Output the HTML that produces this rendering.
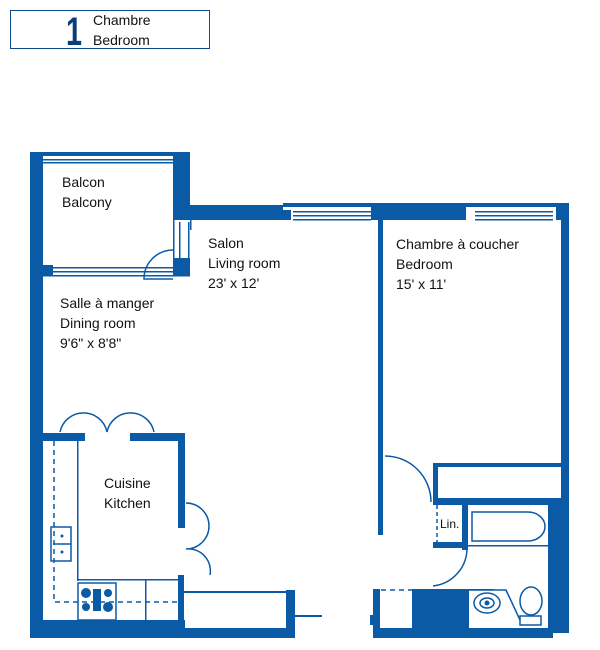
<!DOCTYPE html>
<html><head><meta charset="utf-8"><style>
html,body{margin:0;padding:0;background:#fff;width:600px;height:650px;overflow:hidden}
svg{display:block}
text{font-family:"Liberation Sans",sans-serif;fill:#111;font-size:14px}
</style></head><body>
<svg width="600" height="650" viewBox="0 0 600 650">
<g fill="#0a5aa5" stroke="none">
<rect x="10.5" y="10.5" width="199" height="38" fill="none" stroke="#0a4a8a" stroke-width="1"/>
<rect x="30" y="152" width="13" height="486"/>
<rect x="30" y="152" width="160" height="4"/>
<rect x="43" y="159" width="130" height="1.5"/>
<rect x="43" y="162" width="130" height="1.5"/>
<rect x="173" y="152" width="17" height="68"/>
<rect x="173" y="258" width="17" height="18"/>
<rect x="173" y="220" width="1.5" height="40"/><rect x="179" y="222" width="1.5" height="38"/><rect x="188" y="222" width="1.5" height="38"/>
<rect x="43" y="265" width="10" height="10"/>
<rect x="43" y="267" width="130" height="1.5"/>
<rect x="43" y="271" width="130" height="1.5"/>
<rect x="43" y="275" width="147" height="1.5"/>
<rect x="173" y="205" width="110" height="15"/>
<rect x="283" y="210" width="8" height="10"/>
<rect x="283" y="203" width="90" height="4"/>
<rect x="293" y="211" width="78" height="1.5"/><rect x="293" y="215" width="78" height="1.5"/><rect x="293" y="219" width="78" height="1.5"/>
<rect x="371" y="203" width="95" height="17"/>
<rect x="466" y="203" width="90" height="4"/>
<rect x="475" y="211" width="78" height="1.5"/><rect x="475" y="215" width="78" height="1.5"/><rect x="475" y="219" width="78" height="1.5"/>
<rect x="556" y="203" width="13" height="17"/>
<rect x="190" y="220" width="1.5" height="10"/>
<rect x="378" y="220" width="5" height="315"/>
<rect x="561" y="205" width="8" height="300"/>
<rect x="433" y="463" width="5" height="40"/>
<rect x="433" y="463" width="128" height="4"/>
<rect x="433" y="498" width="136" height="7"/>
<rect x="548" y="500" width="21" height="133"/>
<rect x="462" y="503" width="6" height="47"/>
<rect x="433" y="542" width="35" height="6"/>
<rect x="468" y="545" width="80" height="1.5"/>
<rect x="373" y="628" width="180" height="10"/>
<rect x="373" y="589" width="7" height="45"/>
<rect x="370" y="615" width="4" height="10"/>
<rect x="412" y="589" width="57" height="40"/>
<rect x="469" y="589" width="25" height="1.5"/>
<rect x="43" y="433" width="42" height="8"/>
<rect x="130" y="433" width="55" height="8"/>
<rect x="178" y="433" width="7" height="95"/>
<rect x="77" y="441" width="1.5" height="140"/>
<rect x="30" y="620" width="155" height="18"/>
<rect x="178" y="575" width="6" height="63"/>
<rect x="184" y="591" width="102" height="2"/>
<rect x="286" y="590" width="9" height="48"/>
<rect x="184" y="628" width="111" height="10"/>
<rect x="295" y="615" width="27" height="2"/>
<rect x="78" y="579" width="100" height="1.5"/>
<rect x="145" y="580" width="1.5" height="41"/>
<rect x="78" y="583" width="38" height="37" fill="none" stroke="#0a5aa5" stroke-width="1.5"/>
<circle cx="86" cy="593" r="5"/><circle cx="86" cy="607" r="4"/><circle cx="108" cy="593" r="4"/><circle cx="108" cy="607" r="5"/>
<rect x="93" y="589" width="8" height="22"/>
</g>
<g fill="none" stroke="#0a5aa5" stroke-width="1.5">
<path d="M173 250 A29 29 0 0 0 144 279 L173 279"/>
<path d="M60 432 A24 24 0 0 1 107 432 A24 24 0 0 1 154 432"/>
<path d="M186 503 A22 22 0 0 1 186 549 A22 22 0 0 1 210 575"/>
<path d="M385 456 A46 46 0 0 1 431 502"/>
<path d="M467 548 A38 38 0 0 1 433 586"/>
<path d="M54 441 V602 H178" stroke-dasharray="5,4"/>
<path d="M437 505 V542" stroke-dasharray="4,3"/>
<path d="M381 590 H412" stroke-dasharray="5,4"/>
<rect x="51" y="527" width="20" height="34"/>
<line x1="53" y1="544" x2="71" y2="544"/>
<path d="M472 512 H528 A17 14.5 0 0 1 528 541 H472 Z"/>
<path d="M469 590 H506 L520 620"/>
<ellipse cx="487" cy="603" rx="13" ry="10"/><ellipse cx="487" cy="603" rx="7" ry="5"/>
<ellipse cx="531" cy="601" rx="11" ry="14"/>
<rect x="520" y="616" width="21" height="9"/>
</g>
<circle cx="62" cy="536" r="1.5" fill="#0a5aa5"/><circle cx="62" cy="552" r="1.5" fill="#0a5aa5"/>
<circle cx="487" cy="603" r="2.5" fill="#0a5aa5"/>
<text x="66" y="45" style="font-size:40px;font-weight:bold;fill:#0a3d7a" textLength="16" lengthAdjust="spacingAndGlyphs">1</text>
<text x="93" y="25">Chambre</text>
<text x="93" y="45">Bedroom</text>
<text x="62" y="187">Balcon</text>
<text x="62" y="207">Balcony</text>
<text x="208" y="248">Salon</text>
<text x="208" y="268">Living room</text>
<text x="208" y="288">23' x 12'</text>
<text x="396" y="249">Chambre à coucher</text>
<text x="396" y="269">Bedroom</text>
<text x="396" y="289">15' x 11'</text>
<text x="60" y="308">Salle à manger</text>
<text x="60" y="328">Dining room</text>
<text x="60" y="348">9'6" x 8'8"</text>
<text x="104" y="488">Cuisine</text>
<text x="104" y="508">Kitchen</text>
<text x="440" y="528" style="font-size:12px">Lin.</text>
</svg>
</body></html>
